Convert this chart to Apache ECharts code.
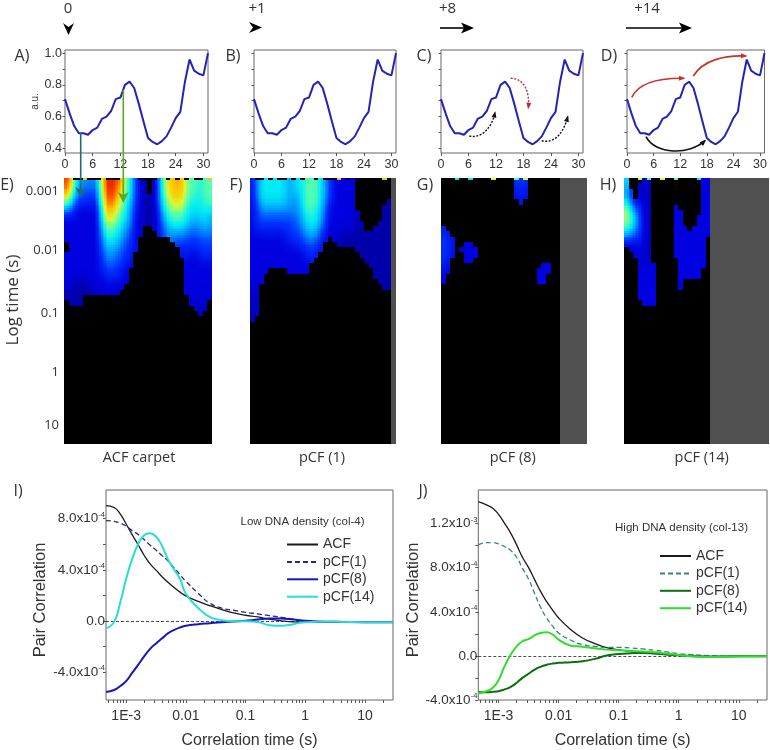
<!DOCTYPE html>
<html><head><meta charset="utf-8">
<style>html,body{margin:0;padding:0;background:#fff}#c{width:770px;height:750px}</style>
<script src="https://cdn.jsdelivr.net/npm/echarts@6/dist/echarts.min.js"></script>
</head><body><div id="c"></div>
<script>
// ---------- data ----------
const columns = [0,1,2,3,4,5,6,7,8,9,10,11,12,13,14,15,16,17,18,19,20,21,22,23,24,25,26,27,28,29,30,31];
const intensity = [.71,.62,.54,.495,.495,.485,.515,.53,.585,.60,.635,.71,.72,.80,.82,.78,.68,.57,.465,.44,.425,.445,.475,.53,.59,.63,.82,.96,.89,.87,.86,1.0];

const rowCount = 50, colCount = 32;
const rowLabels = {2:'0.001',13:'0.01',25:'0.1',36:'1',46:'10'};
const carpetE = [
'a9 544444 9aa a8 65 32 101 46 8889 666 566',
'a8 544444 9aa 98 65 32 101 46 8889 666 566',
'97 443333 9aa 97 65 32 101 46 7888 666 566',
'86 433333 89a 87 65 32 111 45 7888 665 566',
'75 333333 899 86 54 32 111 45 7778 655 566',
'54 322222 889 76 54 32 111 45 6777 555 555',
'33 222222 788 76 54 22 111 34 6666 555 555',
'22 222222 777 65 54 22 111 34 5666 554 554',
'22 222222 677 65 44 22 111 34 5555 544 454',
'22 222222 666 55 44 22 001 33 4555 444 444',
'22 222222 556 54 43 21 000 23 4444 433 444',
'22 222222 555 54 33 20 000 00 0333 333 333',
'02 222222 455 44 33 20 000 00 0033 333 333',
'02 222222 444 43 33 20 000 00 0002 322 333',
'22 222222 444 43 32 00 000 00 0002 322 333',
'22 222222 344 33 32 00 000 00 0000 222 222',
'22 222222 333 33 22 00 000 00 0000 222 222',
'22 222222 333 32 20 00 000 00 0000 222 222',
'22 222222 233 32 20 00 000 00 0000 222 222',
'22 111222 222 22 20 00 000 00 0000 222 222',
'22 111122 222 22 00 00 000 00 0000 222 222',
'11 111111 222 10 00 00 000 00 0000 221 222',
'11 110000 000 00 00 00 000 00 0000 022 221',
'01 110000 000 00 00 00 000 00 0000 022 220',
'00 000000 000 00 00 00 000 00 0000 001 110',
'00 000000 000 00 00 00 000 00 0000 000 100'
];
const carpetF = [
'24 555555 4455 6665 43 22222 00000000',
'24 555555 4555 6665 43 22222 00000000',
'24 555555 4555 6665 43 22222 00000000',
'24 555555 4445 6665 43 22222 00000000',
'23 555555 4445 6665 43 22222 00000001',
'23 444444 4445 6655 32 22222 00000011',
'23 444444 4444 6655 32 22222 10000011',
'23 333333 3344 5555 32 22222 10000011',
'23 333333 3344 5554 32 22222 11000111',
'23 333333 3334 5554 32 22222 11001111',
'22 222222 3333 4443 21 22111 11111111',
'22 222222 3333 4443 20 21111 11111111',
'22 222222 2233 3332 00 01111 11111111',
'22 222222 2222 3332 00 00000 11111111',
'22 222222 2222 3320 00 00000 01111111',
'22 222222 2222 2200 00 00000 00111111',
'22 222222 2222 2000 00 00000 00011111',
'22 220000 2222 2000 00 00000 00001111',
'22 200000 0000 0000 00 00000 00001111',
'22 200000 0000 0000 00 00000 00000111',
'22 000000 0000 0000 00 00000 00000011',
'12 000000 0000 0000 00 00000 00000000',
'12 000000 0000 0000 00 00000 00000000',
'12 000000 0000 0000 00 00000 00000000',
'12 000000 0000 0000 00 00000 00000000',
'12 000000 0000 0000 00 00000 00000000',
'10 000000 0000 0000 00 00000 00000000'
];
const carpetG = [
'0000000000 0000003430 000000',
'0000000000 0000002320 000000',
'0000000000 0000002320 000000',
'0000000000 0000002320 000000',
'0000000000 0000000200 000000',
'0000000000 0000000000 000000',
'0000000000 0000000000 000000',
'0000000000 0000000000 000000',
'0000000000 0000000000 000000',
'2000000000 0000000000 000000',
'3200000000 0000000000 000000',
'3320000000 0000000000 000000',
'3320022000 0000000000 000000',
'3320122200 0000000000 000000',
'3320022200 0000000000 000000',
'3200022000 0000000000 000000',
'3200000000 0000000000 002200',
'2200000000 0000000000 022200',
'2000000000 0000000000 022000',
'2000000000 0000000000 022000'
];
const carpetH = [
'500021 00000 00000022',
'500121 00000 00000022',
'510121 00000 00000022',
'520221 00000 00000022',
'632221 00000 00000022',
'743321 00000 20000022',
'854321 00000 22000022',
'765321 00000 22000222',
'755321 00000 22000222',
'654321 00000 22202222',
'543321 00000 22222222',
'333321 00000 22222220',
'122221 00000 22222220',
'012221 00000 22222220',
'001221 00000 22222220',
'000221 00000 02222220',
'000122 20000 02222220',
'000222 20000 02222200',
'000222 20000 02222200',
'000222 20000 02000000',
'000222 20000 02000000',
'000222 20000 00000000',
'000222 20000 00000000',
'000022 20000 00000000'
];
const stripE = '..00800 0.000....0000..0.0.0.00.8';
const stripF = '.00.0.00.0.0..0.0008.0.0.0.0.8.-';
const stripG = '...5..5....7....6.7.......';
const stripH = '...7.6..7..6....5..';
const measuredE = 32, measuredF = 31, measuredG = 26, measuredH = 19;

const timeS = [0.00046,0.00063,0.0008,0.001,0.00126,0.0016,0.002,0.0025,0.0032,0.004,0.005,0.0063,0.008,0.01,0.016,0.025,0.04,0.063,0.1,0.16,0.25,0.4,0.63,1,1.6,3.2,10,29.5];
const lowACF  = [9.03,8.88,8.36,7.59,6.76,5.94,5.14,4.48,3.95,3.46,3.02,2.63,2.25,1.96,1.52,1.19,.88,.62,.44,.31,.13,0,-.08,-.1,-.1,-.1,-.1,-.1];
const lowP1   = [7.85,7.79,7.66,7.41,7.07,6.76,6.37,5.94,5.52,5.11,4.70,4.18,3.61,3.10,2.17,1.39,1.0,.83,.67,.54,.41,.28,.13,0,-.05,-.08,-.1,-.1];
const lowP8   = [-5.57,-5.42,-5.1,-4.72,-4.08,-3.43,-2.79,-2.22,-1.75,-1.37,-.98,-.72,-.52,-.39,-.26,-.18,-.1,-.05,0,.1,.18,.18,.1,0,-.05,-.08,-.1,-.1];
const lowP14  = [-.59,-.08,1.47,3.28,4.83,6.04,6.71,6.86,6.58,5.86,4.83,4.05,3.28,2.12,1.03,.31,.05,-.03,-.03,-.1,-.34,-.39,-.26,-.1,-.08,-.08,-.1,-.1];
const highACF = [13.99,13.7,13.4,12.84,12.03,11.12,10.07,8.95,7.96,6.9,5.85,4.94,4.13,3.44,2.38,1.63,1.12,.75,.54,.42,.33,.21,.12,.06,0,-.06,-.03,-.03];
const highP1  = [10.07,10.28,10.28,10.16,9.92,9.56,8.95,7.96,6.9,5.64,4.43,3.44,2.68,2.08,1.42,1.02,.87,.78,.78,.72,.63,.51,.36,.21,.12,.03,-.03,-.03];
const highP8  = [-3.29,-3.29,-3.26,-3.2,-3.04,-2.8,-2.44,-1.99,-1.6,-1.24,-.99,-.81,-.69,-.63,-.57,-.48,-.27,.03,.18,.24,.27,.21,.12,.06,0,-.06,-.03,-.03];
const highP14 = [-3.41,-3.2,-2.89,-2.2,-.93,.12,.87,1.33,1.54,1.87,2.08,2.14,1.93,1.48,.93,.84,.69,.57,.51,.45,.39,.33,.21,.09,-.03,-.09,-.06,-.03];

const decadeTicks = [0.001,0.01,0.1,1,10];
const decadeNames = {0.001:'1E-3',0.01:'0.01',0.1:'0.1',1:'1',10:'10'};
const lowYTicks = [-4,0,4,8], highYTicks = [-4,0,4,8,12];

// ---------- helpers ----------
const LS = '"Liberation Sans",Arial,sans-serif', OS = '"Open Sans","Noto Sans",sans-serif', INK = '#333';
const minorDecades = [];
[-4,-3,-2,-1,0,1].forEach(e=>{for(let m=1;m<10;m++){minorDecades.push(+(m+'e'+e));}});
const palette=[[0,0,0],[0,0,170],[0,0,225],[0,50,255],[0,150,255],[0,235,245],[90,255,170],[215,250,50],[255,195,0],[255,100,0],[230,24,0]];
function heatColor(v){
  if(v<0)return '#505050';
  if(v<=0)return '#000';
  const i=Math.min(Math.floor(v),9),f=v-i,a=palette[i],b=palette[i+1];
  return 'rgb('+a.map((x,k)=>Math.round(x+(b[k]-x)*f)).join(',')+')';
}

const grid=[], xAxis=[], yAxis=[], series=[];
function linePanel(left,right,showY){
  const i=grid.length;
  grid.push({left,top:50,width:right-left,height:103,show:true,borderColor:'#666',borderWidth:1,backgroundColor:'#fff'});
  xAxis.push({type:'value',gridIndex:i,min:0,max:31,interval:6,splitLine:{show:false},
    axisLine:{show:false,onZero:false},axisTick:{length:3,lineStyle:{color:'#555'}},
    axisLabel:{color:INK,fontFamily:LS,fontSize:12.5,margin:5,showMaxLabel:false}});
  yAxis.push({type:'value',gridIndex:i,min:0.37,max:1.02,splitLine:{show:false},
    name:showY?'a.u.':'',nameLocation:'middle',nameGap:24,nameRotate:90,
    nameTextStyle:{color:INK,fontFamily:LS,fontSize:10},
    axisLine:{show:false},
    axisTick:{length:2.5,customValues:[.4,.5,.6,.7,.8,.9,1],lineStyle:{color:'#555'}},
    axisLabel:{show:showY,customValues:[.4,.6,.8,1],color:INK,fontFamily:LS,fontSize:12.5,margin:3,formatter:v=>v.toFixed(1)}});
  series.push({type:'line',xAxisIndex:i,yAxisIndex:i,data:columns.map((c,k)=>[c,intensity[k]]),
    showSymbol:false,symbol:'none',lineStyle:{color:'#2323b8',width:2},z:3});
}
function carpetPanel(left,right,rows,measured,strip,withAxis){
  const i=grid.length;
  grid.push({left,top:178,width:right-left,height:266});
  xAxis.push({type:'category',gridIndex:i,data:Array.from({length:colCount},(_,k)=>k),show:false});
  const rowNames=Array.from({length:rowCount},(_,k)=>rowLabels[k]||'');
  yAxis.push({type:'category',gridIndex:i,inverse:true,data:rowNames,show:withAxis,
    name:withAxis?'Log time (s)':'',nameLocation:'middle',nameGap:28,nameRotate:90,
    nameTextStyle:{color:INK,fontFamily:OS,fontSize:17,padding:[0,0,0,22]},
    axisLine:{show:false},axisTick:{show:false},
    axisLabel:{interval:0,color:INK,fontFamily:OS,fontSize:13,margin:5}});
  const M=[],data=[];
  for(let r=0;r<rowCount;r++){
    const s=(rows[r]||'').replace(/ /g,''),row=[];
    for(let c=0;c<colCount;c++){
      const v=c>=measured?-1:(s[c]?parseInt(s[c],36):0);
      row.push(v);data.push([c,r,v]);
    }
    M.push(row);
  }
  // display shading only: soften each coloured cell across its coloured neighbours
  const S=M.map((row,r)=>row.map((v,c)=>{
    if(v<=0)return v;
    let sum=0,w=0;
    for(let dr=-2;dr<=2;dr++)for(let dc=-1;dc<=1;dc++){
      const q=M[r+dr]&&M[r+dr][c+dc];
      if(q>0){const k=(3-Math.abs(dr))*(2-Math.abs(dc));sum+=q*k;w+=k;}
    }
    return sum/w;
  }));
  const cleanStrip=strip.replace(/ /g,'');
  series.push({type:'custom',xAxisIndex:i,yAxisIndex:i,data,silent:true,animation:false,progressive:0,z:1,
    encode:{x:0,y:1},clip:true,
    renderItem(params,api){
      const c=api.value(0),r=api.value(1),v0=api.value(2);
      const v=S[r][c];
      const p=api.coord([c,r]),sz=api.size([1,1]);
      const X0=p[0]-sz[0]/2,Y0=p[1]-sz[1]/2,kids=[];
      const rect=(u0,u1,w0,w1,fill)=>{
        const x0=Math.round(X0+u0*sz[0]),x1=Math.round(X0+u1*sz[0]),y0=Math.round(Y0+w0*sz[1]),y1=Math.round(Y0+w1*sz[1]);
        if(x1>x0&&y1>y0)kids.push({type:'rect',shape:{x:x0,y:y0,width:x1-x0,height:y1-y0},style:{fill}});
      };
      if(v0<=0){rect(0,1,0,1,heatColor(v0));}
      else{
        const at=(rr,cc)=>{const q=S[rr]&&S[rr][cc];return q>0?q:v;};
        const N=3;
        for(let a=0;a<N;a++)for(let b=0;b<N;b++){
          const fx=(a+.5)/N-.5,fy=(b+.5)/N-.5;
          const cx=fx<0?c-1:c+1,ry=fy<0?r-1:r+1,ax=Math.abs(fx),ay=Math.abs(fy);
          const val=(v*(1-ax)+at(r,cx)*ax)*(1-ay)+(at(ry,c)*(1-ax)+at(ry,cx)*ax)*ay;
          rect(a/N,(a+1)/N,b/N,(b+1)/N,heatColor(val));
        }
      }
      if(r===0&&cleanStrip[c]&&cleanStrip[c]!=='.'&&cleanStrip[c]!=='-'){
        const y0=Math.round(Y0);
        kids.push({type:'rect',shape:{x:Math.round(X0),y:y0,width:Math.round(X0+sz[0])-Math.round(X0),height:2},
          style:{fill:heatColor(parseInt(cleanStrip[c],36))}});
      }
      return {type:'group',children:kids};
    }});
}
function corrPanel(left,right,ymin,ymax,yTicks,suffix,names,sets,styles){
  const i=grid.length;
  grid.push({left,top:490,width:right-left,height:210,show:true,borderColor:'#666',borderWidth:1,backgroundColor:'#fff'});
  const xmin=timeS[0], xmax=timeS[timeS.length-1];
  const minors=minorDecades.filter(v=>v>=xmin&&v<=xmax);
  xAxis.push({type:'log',gridIndex:i,min:xmin,max:xmax,splitLine:{show:false},
    name:'Correlation time (s)',nameLocation:'middle',nameGap:33,
    nameTextStyle:{color:INK,fontFamily:LS,fontSize:16},
    axisLine:{show:false,onZero:false},
    axisTick:{length:3,customValues:minors,lineStyle:{color:'#555'}},minorTick:{show:false},
    axisLabel:{customValues:decadeTicks,color:INK,fontFamily:LS,fontSize:14,margin:9,formatter:v=>decadeNames[+v.toPrecision(3)]||''}});
  const half=yTicks.slice(0,-1).map(v=>v+2).concat(yTicks);
  yAxis.push({type:'value',gridIndex:i,min:ymin,max:ymax,splitLine:{show:false},
    name:'Pair Correlation',nameLocation:'middle',nameGap:51,nameRotate:90,
    nameTextStyle:{color:INK,fontFamily:LS,fontSize:16.5,padding:[0,10,0,0]},
    axisLine:{show:false},
    axisTick:{length:3,customValues:half,lineStyle:{color:'#555'}},
    axisLabel:{customValues:yTicks,color:INK,fontFamily:LS,margin:1,
      formatter:v=>{
        if(Math.abs(v)<1e-9)return '{m|0.0}';
        if(Math.abs(v)>=10)return '{m|'+(v/10).toFixed(1)+'x10}{s|-3}';
        return '{m|'+v.toFixed(1)+'x10}{s|-4}';
      },
      rich:{m:{fontFamily:LS,fontSize:13.5,color:INK},s:{fontFamily:LS,fontSize:7.5,color:INK,padding:[0,0,8,0]}}}});
  names.forEach((n,k)=>{
    series.push({name:n+suffix,type:'line',xAxisIndex:i,yAxisIndex:i,smooth:0.5,symbol:'none',showSymbol:false,
      data:timeS.map((t,j)=>[t,sets[k][j]]),lineStyle:styles[k],z:3+k,
      markLine:k===0?{silent:true,symbol:'none',label:{show:false},
        lineStyle:{color:'#222',type:[3,2],width:0.8},data:[{yAxis:0}],animation:false}:undefined});
  });
  return names.map(n=>n+suffix);
}

// ---------- panels ----------
linePanel(65,208,true);linePanel(254,396,false);linePanel(441,583,false);linePanel(627,768,false);
carpetPanel(64,212,carpetE,measuredE,stripE,true);
carpetPanel(250,396,carpetF,measuredF,stripF,false);
carpetPanel(441,587,carpetG,measuredG,stripG,false);
carpetPanel(624,769,carpetH,measuredH,stripH,false);
const curveNames=['ACF','pCF(1)','pCF(8)','pCF(14)'];
const lowLegend=corrPanel(106,393,-6.2,10.25,lowYTicks,'',curveNames,[lowACF,lowP1,lowP8,lowP14],[
  {color:'#1a1a1a',width:1.3},{color:'#2a2a7a',width:1.3,type:[5,3]},{color:'#1616c0',width:2},{color:'#28dcd8',width:2}]);
const highLegend=corrPanel(478.3,767,-4,15.05,highYTicks,' ',curveNames,[highACF,highP1,highP8,highP14],[
  {color:'#1a1a1a',width:1.3},{color:'#3f8080',width:1.3,type:[5,3]},{color:'#0a700f',width:2},{color:'#2ede2e',width:2}]);

// ---------- annotations ----------
const G=[];
function txt(x,y,t,size,font,extra){G.push({type:'text',z:50,x,y,style:Object.assign({text:t,fontSize:size,fontFamily:font||OS,fill:INK,textAlign:'center',textVerticalAlign:'middle'},extra||{})});}
function poly(points,fill){G.push({type:'polygon',z:50,shape:{points},style:{fill}});}
function curve(x1,y1,cx1,cy1,cx2,cy2,x2,y2,color,dash){
  G.push({type:'bezierCurve',z:50,shape:{x1,y1,cpx1:cx1,cpy1:cy1,cpx2:cx2,cpy2:cy2,x2,y2},
    style:{stroke:color,lineWidth:dash?1.4:1.6,fill:null,lineDash:dash?[2,1.5]:null}});
  const a=Math.atan2(y2-cy2,x2-cx2),L=5,W=2.5;
  poly([[x2+Math.cos(a)*1.5,y2+Math.sin(a)*1.5],
    [x2-Math.cos(a)*L-Math.sin(a)*W,y2-Math.sin(a)*L+Math.cos(a)*W],
    [x2-Math.cos(a)*L+Math.sin(a)*W,y2-Math.sin(a)*L-Math.cos(a)*W]],color);
}
function vArrow(x,y1,y2,color){
  G.push({type:'line',z:50,shape:{x1:x,y1,x2:x,y2:y2-6},style:{stroke:color,lineWidth:1.6}});
  poly([[x-5.5,y2-11],[x,y2-8],[x+5.5,y2-11],[x,y2]],color);
}
function hArrow(x1,x2,y){
  G.push({type:'line',z:50,shape:{x1,y1:y,x2:x2-6,y2:y},style:{stroke:'#000',lineWidth:1.6}});
  poly([[x2-13,y-5.5],[x2,y],[x2-13,y+5.5],[x2-10,y]],'#000');
}
txt(68,9,'0',15);txt(257,9,'+1',15);txt(447.5,9,'+8',15);txt(647,9,'+14',15);
poly([[63,23],[68.5,27],[74,23],[68.5,35]],'#000');
poly([[249,22],[262,27.5],[249,33],[253,27.5]],'#000');
hArrow(440,474,28);hArrow(626,692,28);
[['A)',22,56],['B)',233,56],['C)',424,56],['D)',609,56],['E)',7,185],['F)',236,185],['G)',425,185],['H)',608,185],['I)',18,491],['J)',423,491]]
 .forEach(p=>txt(p[1],p[2],p[0],16));
txt(139,458,'ACF carpet',14.5);txt(322,458,'pCF (1)',14.5);txt(512.7,458,'pCF (8)',14.5);txt(701.7,458,'pCF (14)',14.5);
txt(302.5,522,'Low DNA density (col-4)',11.5,LS);
txt(681.5,528,'High DNA density (col-13)',11.5,LS);
vArrow(80.7,133,198,'#1c6a80');
vArrow(123.3,90,203,'#5fa52a');
curve(469.3,136,482,139,492,127,495,112.7,'#111',true);
curve(541.7,140.7,556,144,564,131,567.7,116.7,'#111',true);
curve(510.7,78.3,524,78,530,92,528.3,107.7,'#b03040',true);
curve(631.7,97.3,640,80,665,78,684,78.3,'#c9322a',false);
curve(693.3,76,703,60,725,55,746,56,'#c9322a',false);
curve(646,136.7,655,155,690,155,705,140.7,'#111',false);

const chart=echarts.init(document.getElementById('c'),null,{renderer:'canvas'});
chart.setOption({
  animation:false,backgroundColor:'#fff',
  grid,xAxis,yAxis,series,graphic:G,
  legend:[
    {left:281,top:532.5,orient:'vertical',itemWidth:31,itemHeight:14,itemGap:3.4,data:lowLegend,selectedMode:false,
     itemStyle:{opacity:0},textStyle:{color:INK,fontFamily:LS,fontSize:14},formatter:n=>n.trim()},
    {left:654,top:544,orient:'vertical',itemWidth:31,itemHeight:14,itemGap:3.4,data:highLegend,selectedMode:false,
     itemStyle:{opacity:0},textStyle:{color:INK,fontFamily:LS,fontSize:14},formatter:n=>n.trim()}
  ]
});
</script></body></html>
